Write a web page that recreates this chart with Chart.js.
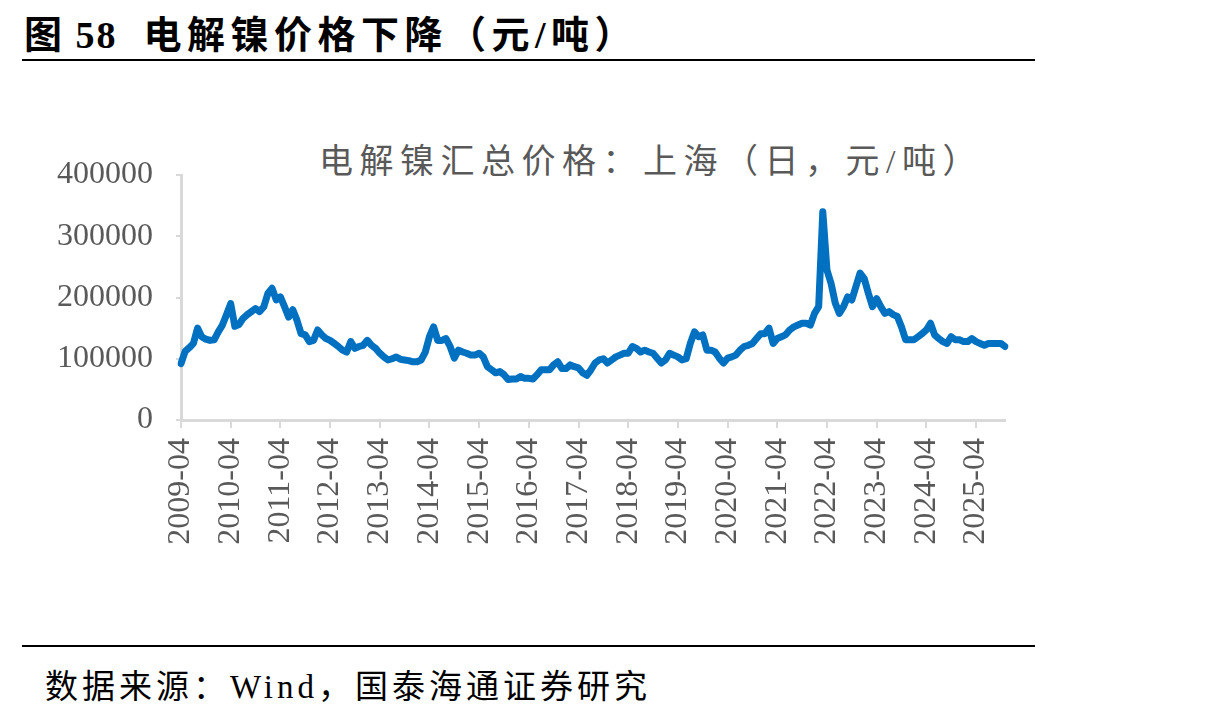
<!DOCTYPE html>
<html>
<head>
<meta charset="utf-8">
<script src="https://cdn.jsdelivr.net/npm/chart.js@4.4.1/dist/chart.umd.min.js"></script>
<style>
    body { margin: 0; background: #fff; width: 1225px; height: 714px; position: relative; overflow: hidden; }
    .head { position: absolute; left: 24px; top: 4px; font: bold 38px "Liberation Serif", "Noto Sans CJK SC", serif; color: #000; white-space: pre; letter-spacing: 2px; }
    .head .sub { margin-left: 26px; letter-spacing: 5.5px; }
    .rule { position: absolute; left: 22px; width: 1013px; height: 2px; background: #000; }
    .foot { position: absolute; left: 45px; top: 660px; font: 33px "Liberation Serif", "Noto Sans CJK SC", serif; color: #000; white-space: pre; letter-spacing: 4px; }
    .ctitle { position: absolute; left: 251px; width: 800px; top: 134px; text-align: center; font: 34px "Liberation Serif", "Noto Sans CJK SC", serif; color: #595959; letter-spacing: 6.5px; }
    #wrap { position: absolute; left: 0; top: 100px; width: 1040px; height: 470px; }
</style>
</head>
<body>
<div class="head">图 58<span class="sub">电解镍价格下降（元/吨）</span></div>
<div class="rule" style="top:59px"></div>
<div class="ctitle">电解镍汇总价格：上海（日，元/吨）</div>
<div id="wrap"><canvas id="nickelChart"></canvas></div>
<div class="rule" style="top:645px"></div>
<div class="foot">数据来源：Wind，国泰海通证券研究</div>

<script>
// 上海电解镍月度价格（元/吨），读自原图
const price2009 = [92000, 112000, 118000, 125000, 150000, 136000, 132000, 130000, 131000];
const price2010 = [144000, 155000, 172000, 190000, 153000, 156000, 166000, 172000, 177000, 182000, 177000, 185000];
const price2011 = [207000, 215000, 196000, 201000, 185000, 168000, 180000, 163000, 141000, 139000, 128000, 130000];
const price2012 = [147000, 139000, 133000, 130000, 125000, 120000, 114000, 111000, 128000, 117000, 120000, 122000];
const price2013 = [130000, 122000, 117000, 109000, 103000, 98000, 100000, 103000, 99000, 98000, 97000, 95000];
const price2014 = [95000, 98000, 111000, 136000, 152000, 130000, 130000, 133000, 120000, 101000, 114000, 111000];
const price2015 = [109000, 106000, 106000, 109000, 103000, 87000, 82000, 77000, 79000, 74000, 66000, 67000];
const price2016 = [67000, 71000, 68000, 68000, 67000, 74000, 82000, 82000, 82000, 90000, 95000, 84000];
const price2017 = [84000, 90000, 87000, 85000, 77000, 73000, 82000, 93000, 98000, 100000, 93000, 98000];
const price2018 = [103000, 106000, 109000, 109000, 120000, 117000, 111000, 114000, 111000, 109000, 101000, 93000];
const price2019 = [98000, 109000, 106000, 103000, 98000, 100000, 125000, 144000, 136000, 139000, 114000, 114000];
const price2020 = [111000, 101000, 93000, 101000, 103000, 106000, 114000, 120000, 122000, 125000, 133000, 141000];
const price2021 = [141000, 150000, 125000, 133000, 136000, 139000, 147000, 152000, 155000, 158000, 158000, 155000];
const price2022 = [174000, 185000, 340000, 245000, 223000, 191000, 174000, 185000, 201000, 196000, 218000, 240000];
const price2023 = [231000, 207000, 185000, 198000, 185000, 174000, 177000, 172000, 169000, 152000, 131000, 131000];
const price2024 = [131000, 136000, 141000, 147000, 158000, 139000, 133000, 128000, 125000, 136000, 131000, 131000];
const price2025 = [128000, 128000, 133000, 128000, 125000, 122000, 125000, 125000, 125000, 125000, 120000];

const prices = [].concat(price2009, price2010, price2011, price2012, price2013, price2014, price2015,
    price2016, price2017, price2018, price2019, price2020, price2021, price2022, price2023, price2024, price2025);

const months = [];
for (let i = 0; i < prices.length; i++) {
    const m = 3 + i;
    const y = 2009 + Math.floor(m / 12);
    months.push(y + "-" + String(m % 12 + 1).padStart(2, "0"));
}

const yTicks = [0, 100000, 200000, 300000, 400000];

const serif = '"Liberation Serif", "Noto Sans CJK SC", serif';
const axisGray = "#d9d9d9";
const textGray = "#595959";

new Chart(document.getElementById("nickelChart"), {
    type: "line",
    data: {
        labels: months,
        datasets: [{
            label: "电解镍汇总价格",
            data: prices,
            borderColor: "#0070c0",
            borderWidth: 7,
            pointRadius: 0,
            tension: 0,
            borderJoinStyle: "round",
            borderCapStyle: "round"
        }]
    },
    options: {
        responsive: true,
        maintainAspectRatio: false,
        animation: false,
        layout: { padding: { left: 0, right: 35, top: 75, bottom: 0 } },
        plugins: {
            legend: { display: false },
            tooltip: { enabled: false },
            title: { display: false }
        },
        scales: {
            x: {
                type: "category",
                offset: false,
                afterBuildTicks: s => {
                    s.ticks = s.ticks.filter(t => months[t.value].endsWith("-04"));
                },
                afterFit: s => { s.height = 150; },
                grid: { drawOnChartArea: false, color: axisGray, lineWidth: 2, tickLength: 8 },
                border: { color: axisGray, width: 3 },
                ticks: {
                    autoSkip: false,
                    minRotation: 90,
                    maxRotation: 90,
                    color: textGray,
                    padding: 10,
                    font: { family: serif, size: 32 }
                }
            },
            y: {
                min: 0,
                max: 400000,
                afterBuildTicks: s => { s.ticks = yTicks.map(v => ({ value: v })); },
                afterFit: s => { s.width = 181; },
                grid: { drawOnChartArea: false, color: axisGray, lineWidth: 2, tickLength: 5 },
                border: { color: axisGray, width: 3 },
                ticks: {
                    color: textGray,
                    padding: 23,
                    font: { family: serif, size: 32 },
                    callback: v => String(v)
                }
            }
        }
    }
});
</script>
</body>
</html>
